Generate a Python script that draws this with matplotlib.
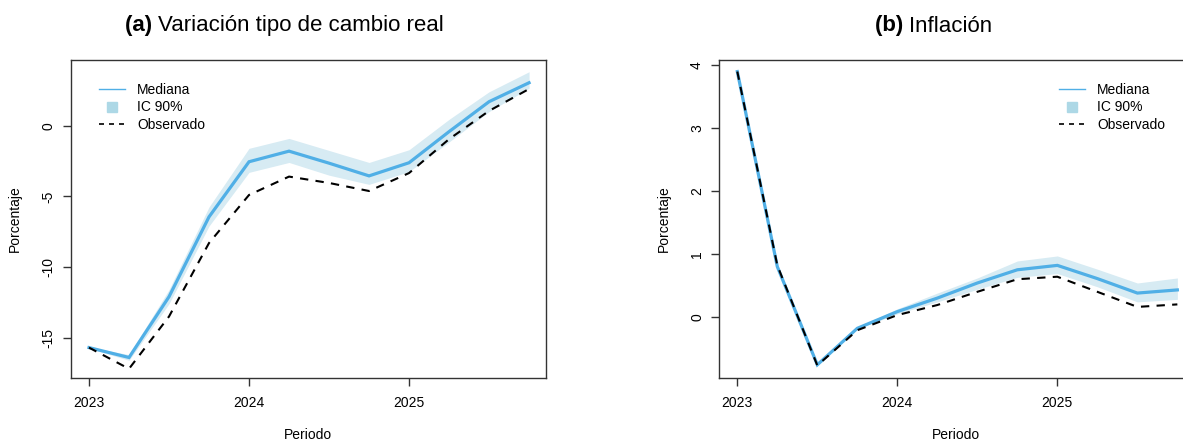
import numpy as np
import matplotlib
matplotlib.use("Agg")
import matplotlib.pyplot as plt
from matplotlib.lines import Line2D

plt.rcParams['font.family'] = ['Liberation Sans', 'DejaVu Sans']

# quarterly periods 2023Q1 .. 2025Q4
periodo = [2023.0, 2023.25, 2023.5, 2023.75, 2024.0, 2024.25,
           2024.5, 2024.75, 2025.0, 2025.25, 2025.5, 2025.75]

# (a) real exchange rate variation
tcr_mediana = [-15.7, -16.4, -12.1, -6.45, -2.55, -1.8, -2.65, -3.55, -2.62, -0.42, 1.7, 3.04]
tcr_inf = [-15.75, -16.6, -12.6, -7.1, -3.3, -2.6, -3.5, -4.15, -3.25, -1.15, 1.0, 2.65]
tcr_sup = [-15.65, -16.2, -11.6, -5.75, -1.6, -0.9, -1.75, -2.6, -1.7, 0.45, 2.4, 3.82]
tcr_obs = [-15.7, -17.2, -13.5, -8.3, -4.9, -3.6, -4.05, -4.62, -3.35, -0.95, 1.05, 2.6]

# (b) inflation
inf_mediana = [3.9, 0.8, -0.76, -0.18, 0.085, 0.3, 0.54, 0.75, 0.82, 0.61, 0.38, 0.43]
inf_inf = [3.9, 0.8, -0.76, -0.19, 0.05, 0.24, 0.44, 0.63, 0.69, 0.48, 0.24, 0.28]
inf_sup = [3.9, 0.8, -0.76, -0.16, 0.13, 0.38, 0.62, 0.89, 0.97, 0.76, 0.54, 0.62]
inf_obs = [3.9, 0.82, -0.77, -0.21, 0.03, 0.19, 0.4, 0.6, 0.64, 0.4, 0.16, 0.2]

W, H = 1183, 442
fig = plt.figure(figsize=(W / 100, H / 100), dpi=100)
renderer = fig.canvas.get_renderer()

band_col = '#d7ebf3'
line_col = '#50afe6'
leg_col = '#add8e6'


def px_axes(left, top, right, bottom):
    return fig.add_axes([left / W, 1 - bottom / H, (right - left) / W, (bottom - top) / H])


def panel(ax, med, lo, hi, obs, ylim, yticks, title_left, title_b, title_r, leg_x, xlab_x):
    ax.fill_between(periodo, lo, hi, color=band_col, lw=0)
    ax.plot(periodo, med, color=line_col, lw=2.3, solid_joinstyle='miter')
    ax.plot(periodo, obs, color='black', lw=1.5, dashes=(4, 3.5))
    ax.set_xlim(2022.8875, 2025.854)
    ax.set_ylim(*ylim)
    ax.set_xticks([2023, 2024, 2025])
    ax.set_xticklabels(['2023', '2024', '2025'])
    ax.set_yticks(yticks)
    ax.set_yticklabels([str(v) for v in yticks], rotation=90, va='center')
    ax.tick_params(length=6, width=1, color='#333333', labelsize=10, pad=5)
    ax.tick_params(axis='x', pad=7)
    for s in ax.spines.values():
        s.set_color('#333333')
        s.set_linewidth(1.0)
    ax.set_ylabel('Porcentaje', fontsize=10, labelpad=14)
    fig.text(xlab_x / W, 1 - 439 / H, 'Periodo', fontsize=10, ha='center', va='baseline')
    # title: bold tag followed by plain text
    tb = fig.text(title_left / W, 1 - 26 / H, title_b + ' ', fontsize=16, fontweight='bold',
                  ha='left', va='center')
    wb = tb.get_window_extent(renderer=renderer).width
    fig.text((title_left + wb) / W, 1 - 26 / H, title_r, fontsize=16,
             ha='left', va='center')
    handles = [
        Line2D([], [], color=line_col, lw=1.0),
        Line2D([], [], color=leg_col, marker='s', ls='none', markersize=7.5),
        Line2D([], [], color='black', lw=1.2, dashes=(3, 3)),
    ]
    ax.legend(handles, ['Mediana', 'IC 90%', 'Observado'], frameon=False,
              loc='upper left', bbox_to_anchor=(leg_x / W, 1 - 83 / H),
              bbox_transform=fig.transFigure, fontsize=10, handlelength=1.9,
              handletextpad=0.85, labelspacing=0.25, borderaxespad=0,
              borderpad=0)


ax1 = px_axes(71, 60, 545.7, 377.7)
panel(ax1, tcr_mediana, tcr_inf, tcr_sup, tcr_obs, (-17.83, 4.65), [-15, -10, -5, 0],
      125, '(a)', 'Variación tipo de cambio real', 99, 308)

ax2 = px_axes(719.3, 60, 1194, 377.7)
panel(ax2, inf_mediana, inf_inf, inf_sup, inf_obs, (-0.965, 4.084), [0, 1, 2, 3, 4],
      875, '(b)', 'Inflación', 1059, 956)

fig.savefig('out.png', dpi=100)
